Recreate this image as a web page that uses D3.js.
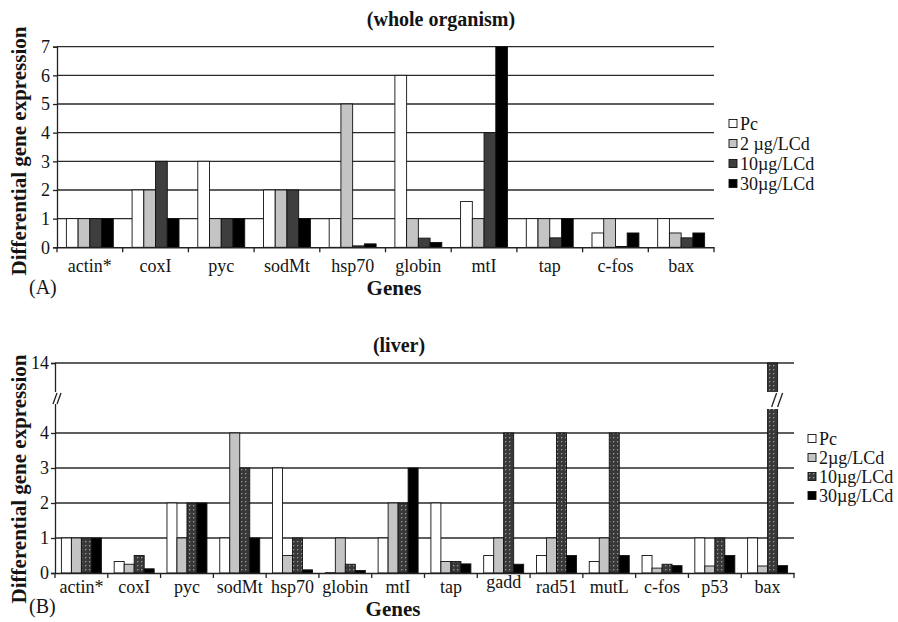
<!DOCTYPE html>
<html><head><meta charset="utf-8">
<script src="https://cdn.jsdelivr.net/npm/d3@7"></script>
<style>
body{margin:0;background:#fff}
svg{display:block}
text{font-family:"Liberation Serif","Times New Roman",serif;fill:#141414}
</style>
</head><body>
<svg id="c" width="898" height="622"></svg>
<script>
// ---- Panel A (whole organism) ----
const genesA = ["actin*","coxI","pyc","sodMt","hsp70","globin","mtI","tap","c-fos","bax"];
const seriesA = ["Pc","2 µg/LCd","10µg/LCd","30µg/LCd"];
const pcA   = [1, 2, 3, 2, 1,    6,    1.6, 1,    0.5,  1];
const cd2A  = [1, 2, 1, 2, 5,    1,    1,   1,    1,    0.5];
const cd10A = [1, 3, 1, 2, 0.05, 0.32, 4,   0.33, 0.03, 0.33];
const cd30A = [1, 1, 1, 1, 0.12, 0.17, 7,   1,    0.5,  0.5];
const yTicksA = [0,1,2,3,4,5,6,7];

// ---- Panel B (liver) ----
const genesB = ["actin*","coxI","pyc","sodMt","hsp70","globin","mtI","tap","gadd","rad51","mutL","c-fos","p53","bax"];
const seriesB = ["Pc","2µg/LCd","10µg/LCd","30µg/LCd"];
const pcB   = [1, 0.33, 2, 1, 3,    0.01, 1, 2,    0.5,  0.5, 0.33, 0.5,  1,   1];
const cd2B  = [1, 0.25, 1, 4, 0.5,  1,    2, 0.33, 1,    1,   1,    0.14, 0.2, 0.2];
const cd10B = [1, 0.5,  2, 3, 1,    0.25, 2, 0.33, 4,    4,   4,    0.25, 1,   14];
const cd30B = [1, 0.12, 2, 1, 0.09, 0.07, 3, 0.26, 0.25, 0.5, 0.5,  0.21, 0.5, 0.21];
const yTicksB = [0,1,2,3,4,14];

const svg = d3.select("#c");
const defs = svg.append("defs");
const pat = defs.append("pattern").attr("id","dots").attr("patternUnits","userSpaceOnUse")
  .attr("width",4).attr("height",4).attr("x",0).attr("y",0);
pat.append("rect").attr("width",4).attr("height",4).attr("fill","#383838");
pat.append("rect").attr("x",1).attr("y",1).attr("width",1.3).attr("height",1.3).attr("fill","#9a9a9a");

const colorsA = ["#ffffff","#c4c4c4","#3e3e3e","#000000"];
const colorsB = ["#ffffff","#c4c4c4","url(#dots)","#000000"];

function panel(o){
  const g = svg.append("g");
  const x = d3.scaleBand().domain(o.genes).range([o.x0,o.x1]).paddingInner(0).paddingOuter(0);
  const xs = d3.scaleBand().domain(o.series).range([0,x.bandwidth()]).paddingInner(0).paddingOuter(o.outer);
  const y = o.y;
  // gridlines
  g.append("g").selectAll("line").data(o.yTicks.filter(d=>d>0)).join("line")
    .attr("x1",o.x0).attr("x2",o.x1).attr("y1",d=>y(d)).attr("y2",d=>y(d))
    .attr("stroke","#2a2a2a").attr("stroke-width",1.3);
  // bars
  const rows = [];
  o.genes.forEach((gname,i)=>{
    o.values.forEach((arr,s)=>rows.push({gene:gname,s:s,v:arr[i]}));
  });
  g.append("g").selectAll("rect").data(rows).join("rect")
    .attr("x",d=>x(d.gene)+xs(o.series[d.s]))
    .attr("width",xs.bandwidth())
    .attr("y",d=>y(d.v))
    .attr("height",d=>y(0)-y(d.v))
    .attr("fill",d=>o.colors[d.s])
    .attr("stroke","#111").attr("stroke-width",0.9);
  // y axis
  const ya = d3.axisLeft(y).tickValues(o.yTicks).tickSize(o.tick).tickPadding(o.tpad).tickFormat(d3.format("d"));
  const yg = g.append("g").attr("transform",`translate(${o.x0},0)`).call(ya);
  yg.select(".domain").attr("stroke","#222").attr("stroke-width",1.3);
  yg.selectAll(".tick line").attr("stroke","#222").attr("stroke-width",1.3);
  yg.selectAll("text").style("font-size","18px").attr("fill","#141414");
  // x axis
  const xa = d3.axisBottom(x).tickSize(0).tickPadding(o.xpad);
  const xg = g.append("g").attr("transform",`translate(0,${y(0)})`).call(xa);
  xg.select(".domain").attr("stroke","#222").attr("stroke-width",1.6);
  xg.selectAll("text").style("font-size","18px").attr("fill","#141414")
    .attr("dy",d=>d==="gadd" ? "0.45em" : "0.71em");
  const bounds = o.genes.map(d=>x(d)).concat([o.x1]);
  g.append("g").selectAll("line").data(bounds).join("line")
    .attr("x1",d=>d).attr("x2",d=>d).attr("y1",y(0)).attr("y2",y(0)+5)
    .attr("stroke","#222").attr("stroke-width",1.3);
  // titles
  g.append("text").attr("x",o.titleX).attr("y",o.titleY).attr("text-anchor","middle")
    .style("font-size","20px").style("font-weight","bold").text(o.title);
  g.append("text").attr("x",o.genesX).attr("y",o.genesY).attr("text-anchor","middle")
    .style("font-size","21px").style("font-weight","bold").text("Genes");
  g.append("text").attr("x",29).attr("y",o.tagY).style("font-size","20px").text(o.tag);
  g.append("text").attr("transform",`translate(26,${o.ylabY}) rotate(-90)`).attr("text-anchor","middle")
    .style("font-size","21px").style("font-weight","bold").text("Differential gene expression");
  // legend
  const lg = g.append("g");
  o.series.forEach((s,i)=>{
    const cy = o.legY + i*o.legStep;
    lg.append("rect").attr("x",o.legX).attr("y",cy-4.5).attr("width",8).attr("height",8)
      .attr("fill",o.colors[i]).attr("stroke","#111").attr("stroke-width",0.9);
    lg.append("text").attr("x",o.legX+11).attr("y",cy+6).style("font-size","18px").text(s);
  });
  return {g,x,xs,y};
}

const yA = d3.scaleLinear().domain([0,7]).range([247.3,46.7]);
panel({genes:genesA, series:seriesA, values:[pcA,cd2A,cd10A,cd30A], colors:colorsA,
  x0:57, x1:714, y:yA, yTicks:yTicksA, outer:0.8, tick:4, tpad:3, xpad:12,
  title:"(whole organism)", titleX:441, titleY:26, genesX:394, genesY:295, tag:"(A)", tagY:294,
  ylabY:151, legX:729, legY:124, legStep:20});

const yB = d3.scaleLinear().domain([0,4,14]).range([573,433,363]);
const pB = panel({genes:genesB, series:seriesB, values:[pcB,cd2B,cd10B,cd30B], colors:colorsB,
  x0:55, x1:794, y:yB, yTicks:yTicksB, outer:0.64, tick:4, tpad:2, xpad:7,
  title:"(liver)", titleX:399, titleY:352, genesX:393, genesY:616, tag:"(B)", tagY:613,
  ylabY:479, legX:808, legY:439, legStep:19});

// axis break on left axis of panel B
const brk = svg.append("g");
brk.append("rect").attr("x",52).attr("y",392).attr("width",7).attr("height",12).attr("fill","#fff");
[[53,404,57,393],[57,404,61,393]].forEach(l=>brk.append("line")
  .attr("x1",l[0]).attr("y1",l[1]).attr("x2",l[2]).attr("y2",l[3]).attr("stroke","#222").attr("stroke-width",1.3));
// break in tall bax bar
const bx = pB.x("bax")+pB.xs(seriesB[2]);
const bw = pB.xs.bandwidth();
brk.append("rect").attr("x",bx-1).attr("y",392).attr("width",bw+2).attr("height",17).attr("fill","#fff");
[[bx+4,407,bx+9,393],[bx+10,407,bx+15,393]].forEach(l=>brk.append("line")
  .attr("x1",l[0]).attr("y1",l[1]).attr("x2",l[2]).attr("y2",l[3]).attr("stroke","#222").attr("stroke-width",1.3));
</script>
</body></html>
